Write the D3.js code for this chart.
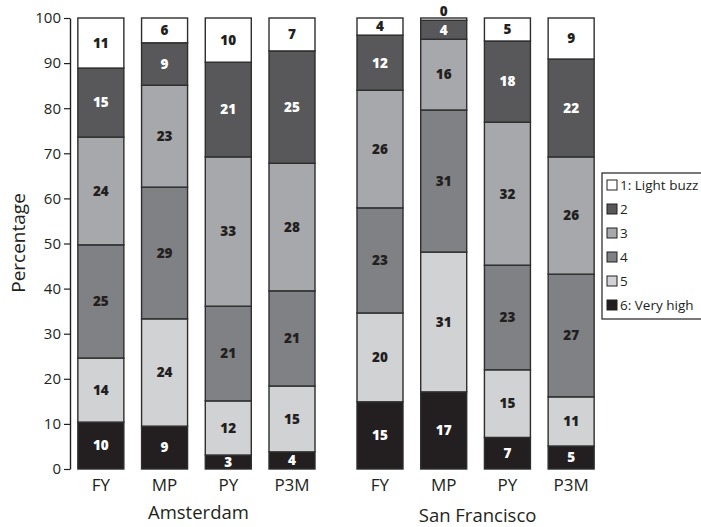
<!DOCTYPE html>
<html>
<head>
<meta charset="utf-8">
<script src="https://cdnjs.cloudflare.com/ajax/libs/d3/7.8.5/d3.min.js"></script>
<style>
  html, body { margin: 0; padding: 0; background: #fff; }
  svg { display: block; font-family: "Open Sans", "Noto Sans", sans-serif; }
</style>
</head>
<body>
<svg id="chart" width="701" height="527"></svg>
<script>
// ---- data ----
const groups = ["Amsterdam", "San Francisco"];
const categories = ["FY", "MP", "PY", "P3M"];
const levels = ["1: Light buzz", "2", "3", "4", "5", "6: Very high"];
const levelColors = ["#ffffff", "#58585a", "#a7a8ab", "#808184", "#d1d2d4", "#231f20"];
const labelColors = ["#231f20", "#ffffff", "#231f20", "#231f20", "#231f20", "#ffffff"];
const yTicks = [0, 10, 20, 30, 40, 50, 60, 70, 80, 90, 100];

// values per level, bars in order: Amsterdam FY, MP, PY, P3M, San Francisco FY, MP, PY, P3M
const level1 = [11.1, 5.5, 9.8, 7.3, 3.8, 0.5, 5.1, 9.1];
const level2 = [15.3, 9.4, 21.0, 24.9, 12.2, 4.2, 18.0, 21.7];
const level3 = [23.9, 22.6, 33.1, 28.3, 26.1, 15.7, 31.7, 26.0];
const level4 = [25.1, 29.2, 21.0, 21.1, 23.3, 31.5, 23.2, 27.2];
const level5 = [14.2, 23.8, 12.0, 14.6, 19.7, 31.0, 15.0, 10.9];
const level6 = [10.4, 9.5, 3.1, 3.8, 14.9, 17.1, 7.0, 5.1];

// printed labels
const label1 = [11, 6, 10, 7, 4, 0, 5, 9];
const label2 = [15, 9, 21, 25, 12, 4, 18, 22];
const label3 = [24, 23, 33, 28, 26, 16, 32, 26];
const label4 = [25, 29, 21, 21, 23, 31, 23, 27];
const label5 = [14, 24, 12, 15, 20, 31, 15, 11];
const label6 = [10, 9, 3, 4, 15, 17, 7, 5];

const levelValues = [level1, level2, level3, level4, level5, level6];
const levelLabels = [label1, label2, label3, label4, label5, label6];

// ---- build table ----
const bars = [];
groups.forEach((g, gi) => categories.forEach((c, ci) => {
  const idx = gi * categories.length + ci;
  const row = { group: g, cat: c, idx };
  levels.forEach((l, li) => { row[l] = levelValues[li][idx]; });
  bars.push(row);
}));

// stack from bottom: level 6 at bottom ... level 1 on top
const stackOrder = levels.slice().reverse();
const stack = d3.stack().keys(stackOrder);
const series = stack(bars);

// ---- scales ----
const svg = d3.select("#chart");
const y = d3.scaleLinear().domain([0, 100]).range([469, 18]);
const x0 = d3.scaleBand().domain(groups).range([69, 603]).paddingInner(0.087).paddingOuter(0);
const x1 = d3.scaleBand().domain(categories).range([0, x0.bandwidth()]).paddingInner(0.278).paddingOuter(0.139);
const barX = d => x0(d.group) + x1(d.cat);

// ---- bars ----
const gBars = svg.append("g");
series.forEach(s => {
  const li = levels.indexOf(s.key);
  gBars.selectAll(null)
    .data(s)
    .join("rect")
    .attr("x", d => barX(d.data))
    .attr("y", d => y(d[1]))
    .attr("width", x1.bandwidth())
    .attr("height", d => y(d[0]) - y(d[1]))
    .attr("fill", levelColors[li])
    .attr("stroke", "#2e2e2e")
    .attr("stroke-width", 1.4);
});

// ---- value labels ----
const gLab = svg.append("g")
  .attr("font-weight", 800)
  .attr("font-size", 13.5)
  .attr("text-anchor", "middle");
series.forEach(s => {
  const li = levels.indexOf(s.key);
  gLab.selectAll(null)
    .data(s)
    .join("text")
    .attr("x", d => barX(d.data) + x1.bandwidth() / 2)
    .attr("y", d => (d[1] - d[0]) < 2 ? y(d[1]) - 7 : y((d[0] + d[1]) / 2))
    .attr("dy", "0.36em")
    .attr("fill", d => (d[1] - d[0]) < 2 ? "#231f20" : labelColors[li])
    .text(d => levelLabels[li][d.data.idx]);
});

// ---- y axis ----
const yAxis = d3.axisLeft(y).tickValues(yTicks).tickSize(6).tickSizeOuter(0).tickPadding(3);
const gy = svg.append("g").attr("transform", "translate(70,0)").call(yAxis);
gy.selectAll("path.domain").attr("stroke", "#231f20").attr("stroke-width", 1.4);
gy.selectAll(".tick line").attr("stroke", "#231f20").attr("stroke-width", 1.2);
gy.selectAll(".tick text").attr("font-size", 15).attr("fill", "#231f20")
  .attr("font-family", "'Open Sans', sans-serif");

svg.append("text")
  .attr("transform", "translate(25,243) rotate(-90)")
  .attr("text-anchor", "middle")
  .attr("font-size", 19)
  .attr("fill", "#231f20")
  .text("Percentage");

// ---- x labels ----
svg.append("g").selectAll("text")
  .data(bars)
  .join("text")
  .attr("x", d => barX(d) + x1.bandwidth() / 2)
  .attr("y", 491)
  .attr("text-anchor", "middle")
  .attr("font-size", 17)
  .attr("fill", "#231f20")
  .text(d => d.cat);

svg.append("g").selectAll("text")
  .data(groups)
  .join("text")
  .attr("x", d => x0(d) + x0.bandwidth() / 2 + 2)
  .attr("y", (d, i) => i === 0 ? 519 : 522)
  .attr("text-anchor", "middle")
  .attr("font-size", 18.5)
  .attr("fill", "#231f20")
  .text(d => d);

// ---- legend ----
const leg = svg.append("g").attr("transform", "translate(602,173)");
leg.append("rect")
  .attr("x", 0).attr("y", 0).attr("width", 130).attr("height", 146)
  .attr("fill", "#fff").attr("stroke", "#231f20").attr("stroke-width", 1.2);
const items = leg.selectAll("g.item")
  .data(levels)
  .join("g")
  .attr("class", "item")
  .attr("transform", (d, i) => `translate(5,${12 + i * 24})`);
items.append("rect")
  .attr("x", 0).attr("y", -5).attr("width", 10).attr("height", 10)
  .attr("fill", (d, i) => levelColors[i])
  .attr("stroke", "#231f20").attr("stroke-width", 1);
items.append("text")
  .attr("x", 13).attr("y", 0).attr("dy", "0.36em")
  .attr("font-size", 13.5)
  .attr("fill", "#231f20")
  .text(d => d);
</script>
</body>
</html>
